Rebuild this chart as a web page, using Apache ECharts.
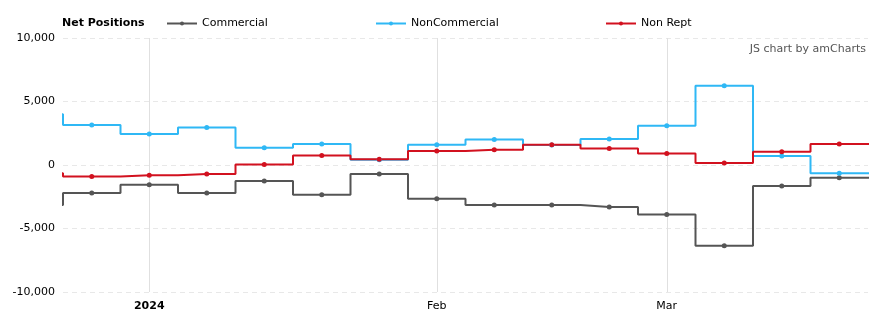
<!DOCTYPE html>
<html>
<head>
<meta charset="utf-8">
<script src="https://cdn.jsdelivr.net/npm/echarts@6/dist/echarts.min.js"></script>
<style>
  html, body { margin: 0; padding: 0; background: #fff; }
  #chart { width: 887px; height: 326px; }
</style>
</head>
<body>
<div id="chart"></div>
<script>
// weekly report dates (first one is only partly visible at the left edge)
var weeks = ['2023-12-19', '2023-12-26', '2024-01-02', '2024-01-09', '2024-01-16', '2024-01-23', '2024-01-30',
             '2024-02-06', '2024-02-13', '2024-02-20', '2024-02-27', '2024-03-05', '2024-03-12', '2024-03-19', '2024-03-26'];
var labelWeeks = ['2024-01-02', '2024-02-06', '2024-03-05'];
var tickLabels = ['2024', 'Feb', 'Mar'];

var commercial    = [-3150, -2200, -1550, -2200, -1250, -2350, -700, -2650, -3150, -3150, -3300, -3900, -6350, -1650, -1000];
var nonCommercial = [4000, 3150, 2450, 2950, 1350, 1650, 420, 1600, 2000, 1580, 2050, 3100, 6250, 700, -650];
var nonRept       = [-650, -900, -800, -700, 30, 750, 450, 1100, 1200, 1600, 1300, 900, 150, 1050, 1650];

var yTicks = [-10000, -5000, 0, 5000, 10000];

var tickPos = labelWeeks.map(function (d) { return weeks.indexOf(d); });

// each week fills its own cell; the last value runs on to the right edge
function stepData(values) {
    var out = values.map(function (v, i) {
        return i === 0 ? { value: [i, v], symbol: 'none' } : [i, v];
    });
    out.push({ value: [values.length, values[values.length - 1]], symbol: 'none' });
    return out;
}

function makeSeries(name, color, values) {
    return {
        name: name,
        type: 'line',
        step: 'middle',
        data: stepData(values),
        symbol: 'circle',
        symbolSize: 5,
        showAllSymbol: true,
        clip: true,
        lineStyle: { color: color, width: 2 },
        itemStyle: { color: color },
        emphasis: { disabled: true }
    };
}

var myChart = echarts.init(document.getElementById('chart'));
var option = {
    animation: false,
    textStyle: { fontFamily: 'DejaVu Sans' },
    title: {
        text: 'Net Positions',
        left: 57, top: 13,
        textStyle: { fontSize: 11, fontWeight: 'bold', color: '#000', fontFamily: 'DejaVu Sans' }
    },
    legend: [
        { data: ['Commercial'], left: 161, top: 13 },
        { data: ['NonCommercial'], left: 370, top: 13 },
        { data: ['Non Rept'], left: 600, top: 13 }
    ].map(function (l) {
        l.itemWidth = 30;
        l.itemHeight = 5;
        l.itemGap = 6;
        l.textStyle = { fontSize: 11, color: '#000', fontFamily: 'DejaVu Sans' };
        return l;
    }),
    graphic: [{
        type: 'text',
        right: 21, top: 44,
        style: { text: 'JS chart by amCharts', fontSize: 11, fill: '#555', fontFamily: 'DejaVu Sans' }
    }],
    grid: { left: 63, right: 19, top: 38, bottom: 34 },
    xAxis: {
        type: 'value',
        min: 0.5,
        max: weeks.length - 0.5,
        axisLine: { show: false },
        axisTick: { show: false, customValues: tickPos },
        axisLabel: {
            customValues: tickPos,
            margin: 9,
            fontSize: 11,
            color: '#000',
            formatter: function (v) {
                var k = tickPos.indexOf(v);
                if (k < 0) return '';
                return k === 0 ? '{b|' + tickLabels[k] + '}' : tickLabels[k];
            },
            rich: { b: { fontWeight: 'bold', fontSize: 11, fontFamily: 'DejaVu Sans' } }
        },
        splitLine: { show: true, lineStyle: { color: '#e0e0e0', width: 1 } }
    },
    yAxis: {
        type: 'value',
        min: yTicks[0],
        max: yTicks[yTicks.length - 1],
        interval: 5000,
        axisLine: { show: false },
        axisTick: { show: false },
        axisLabel: {
            fontSize: 11, color: '#000', margin: 8,
            formatter: function (v) { return v.toLocaleString('en-US'); }
        },
        splitLine: { lineStyle: { color: '#e8e8e8', type: [5, 4], width: 1 } }
    },
    series: [
        makeSeries('Commercial', '#555555', commercial),
        makeSeries('NonCommercial', '#2fb8f5', nonCommercial),
        makeSeries('Non Rept', '#d2111f', nonRept)
    ]
};
myChart.setOption(option);
</script>
</body>
</html>
